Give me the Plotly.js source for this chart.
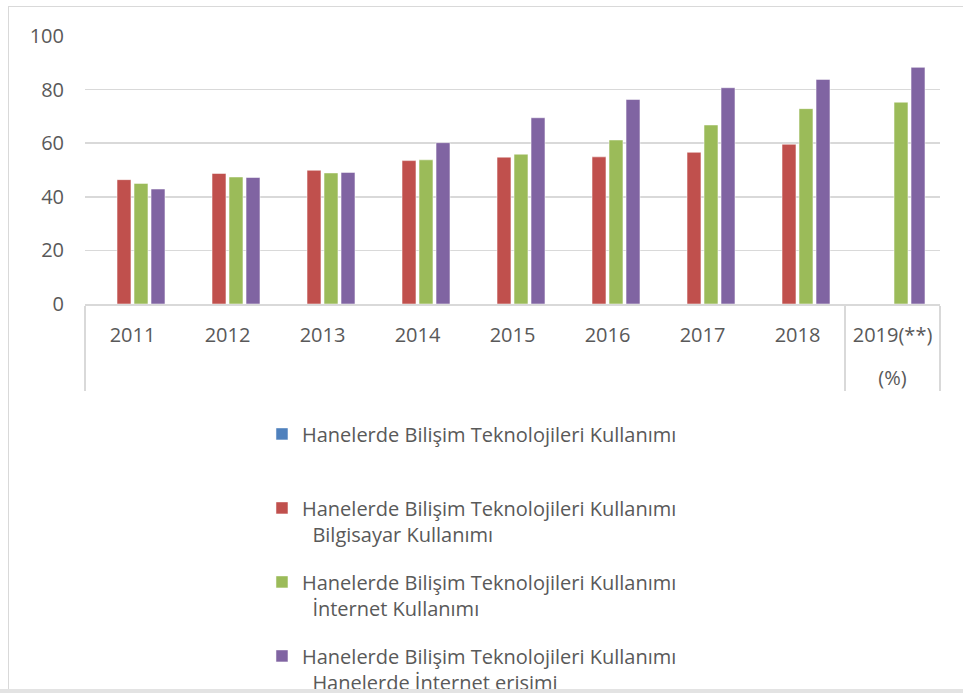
<!DOCTYPE html>
<html>
<head>
<meta charset="utf-8">
<script src="https://cdn.plot.ly/plotly-3.0.1.min.js"></script>
<style>
  html, body { margin: 0; padding: 0; overflow: hidden; background: #fff; }
  #chart { width: 963px; height: 730px; }
  #frame { position: absolute; left: 8px; top: 6px; width: 1000px; height: 683px;
           border-left: 1.5px solid #d9d9d9; border-top: 1.5px solid #d9d9d9; pointer-events: none; }
  #bottomband { position: absolute; left: 0; top: 689px; width: 963px; height: 10px; background: #e3e3e3; }
</style>
</head>
<body>
<div id="chart"></div>
<div id="frame"></div>
<div id="bottomband"></div>
<script>
const years = ["2011", "2012", "2013", "2014", "2015", "2016", "2017", "2018", "2019(**)"];
const groups = [" ", " ", " ", " ", " ", " ", " ", " ", "<br>(%)"];

const seriesNames = [
  "Hanelerde Bilişim Teknolojileri Kullanımı",
  "Hanelerde Bilişim Teknolojileri Kullanımı<br>\u00A0\u00A0Bilgisayar Kullanımı",
  "Hanelerde Bilişim Teknolojileri Kullanımı<br>\u00A0\u00A0İnternet Kullanımı",
  "Hanelerde Bilişim Teknolojileri Kullanımı<br>\u00A0\u00A0Hanelerde İnternet erişimi"
];

const hbtk = [null, null, null, null, null, null, null, null, null];
const bilgisayar = [46.4, 48.7, 49.9, 53.5, 54.8, 54.9, 56.6, 59.6, null];
const internetKullanimi = [45.0, 47.4, 48.9, 53.8, 55.9, 61.2, 66.8, 72.9, 75.3];
const internetErisimi = [42.9, 47.2, 49.1, 60.2, 69.5, 76.3, 80.7, 83.8, 88.3];

const colors = ["#4F81BD", "#C0504D", "#9BBB59", "#8064A2"];
const allValues = [hbtk, bilgisayar, internetKullanimi, internetErisimi];

const traces = allValues.map((vals, i) => ({
  type: "bar",
  name: i === 0 ? seriesNames[0] + "<br> " : seriesNames[i],
  x: [groups, years],
  y: vals,
  legendgroup: "g" + i,
  marker: { color: colors[i], line: { color: "rgba(255,255,255,0.5)", width: 1 } },
  hoverinfo: "y"
}));

const textColor = "#595959";
const gridColor = "#d9d9d9";

const layout = {
  width: 963,
  height: 730,
  margin: { l: 85, r: 23, t: 35.5, b: 425.7 },
  paper_bgcolor: "#ffffff",
  plot_bgcolor: "#ffffff",
  font: { family: "Open Sans, sans-serif", size: 20, color: textColor },
  barmode: "group",
  bargap: 0.284,
  bargroupgap: 0.18,
  showlegend: true,
  legend: {
    orientation: "v",
    x: 0.207, xanchor: "left",
    y: -0.412, yanchor: "top",
    valign: "top",
    tracegroupgap: 19,
    font: { family: "Open Sans, sans-serif", size: 20, color: textColor },
    bgcolor: "rgba(0,0,0,0)"
  },
  xaxis: {
    type: "multicategory",
    showgrid: false,
    showline: true,
    linecolor: gridColor,
    linewidth: 1.5,
    ticks: "",
    showdividers: true,
    dividercolor: gridColor,
    dividerwidth: 1.5,
    ticklabelstandoff: 12,
    tickfont: { family: "Open Sans, sans-serif", size: 20, color: textColor }
  },
  yaxis: {
    range: [0, 100],
    dtick: 20,
    showgrid: true,
    gridcolor: gridColor,
    gridwidth: 1.5,
    zeroline: false,
    showline: false,
    ticks: "",
    ticklabelstandoff: 20,
    tickfont: { family: "Open Sans, sans-serif", size: 20, color: textColor }
  }
};

Plotly.newPlot("chart", traces, layout, { displayModeBar: false, staticPlot: true });
</script>
</body>
</html>
